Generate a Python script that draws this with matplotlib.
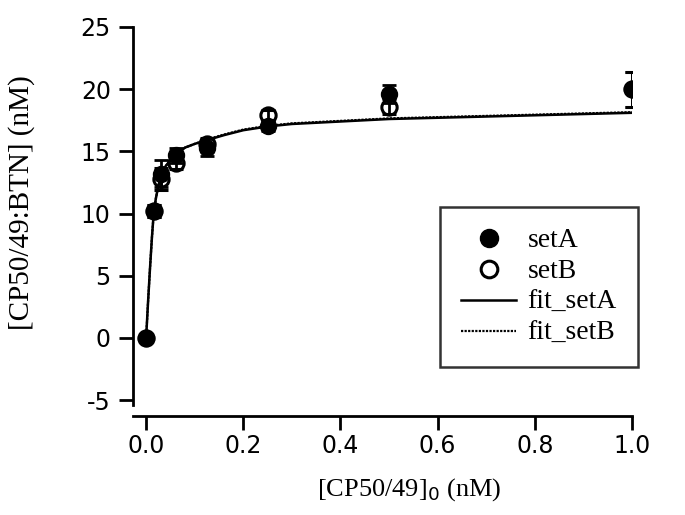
import matplotlib
matplotlib.use("Agg")
import matplotlib.pyplot as plt
from matplotlib.lines import Line2D

plt.rcParams["axes.unicode_minus"] = False

# Total CP50/49 concentration (nM)
conc = [0.0, 0.015625, 0.03125, 0.0625, 0.125, 0.25, 0.5, 1.0]

# Bound complex, set A (filled) and set B (open)
setA = [0.0, 10.2, 13.2, 14.7, 15.3, 17.0, 19.6, 20.0]
errA = [0.3, 0.5, 1.1, 0.6, 0.7, 0.4, 0.7, 1.4]
setB = [0.0, 10.2, 12.8, 14.1, 15.6, 17.9, 18.6, 20.0]
errB = [0.3, 0.5, 0.9, 0.5, 0.5, 0.4, 0.6, 1.4]

# Fitted binding curves
fit_x = [0.0, 0.004, 0.008, 0.012, 0.0156, 0.02, 0.025, 0.03125, 0.04, 0.05,
         0.0625, 0.08, 0.1, 0.125, 0.16, 0.2, 0.25, 0.3, 0.4, 0.5, 0.6, 0.7,
         0.8, 0.9, 1.0]
fit_setA = [0.0, 2.9, 5.6, 8.1, 10.0, 11.2, 12.2, 13.1, 13.8, 14.3,
            14.8, 15.3, 15.6, 15.9, 16.3, 16.7, 17.0, 17.2, 17.4, 17.6,
            17.7, 17.8, 17.9, 18.0, 18.1]
fit_setB = [0.0, 2.9, 5.6, 8.1, 10.0, 11.2, 12.2, 13.1, 13.8, 14.3,
            14.8, 15.3, 15.6, 15.95, 16.35, 16.75, 17.05, 17.25, 17.45, 17.65,
            17.75, 17.85, 17.95, 18.05, 18.15]

xticks = [0.0, 0.2, 0.4, 0.6, 0.8, 1.0]
xtick_labels = ["0.0", "0.2", "0.4", "0.6", "0.8", "1.0"]
yticks = [-5, 0, 5, 10, 15, 20, 25]

W, H = 685, 515
fig = plt.figure(figsize=(W / 100, H / 100), dpi=100)
left, right, top, bottom = 133, 632, 27, 405
aw, ah = right - left, bottom - top
ax = fig.add_axes([left / W, 1 - bottom / H, aw / W, ah / H])

serif = "Liberation Serif"
sans = "DejaVu Sans"

ax.plot(fit_x, fit_setA, color="black", lw=1.8, zorder=2)
ax.plot(fit_x, fit_setB, color="black", lw=1.6, ls=(0, (1, 0.6)), zorder=2)

ax.errorbar(conc, setB, yerr=errB, fmt="o", ms=11, mfc="none", mec="black", mew=2.2,
            ecolor="black", elinewidth=2, capsize=5, capthick=2, zorder=3)
ax.errorbar(conc, setA, yerr=errA, fmt="o", ms=11.5, mfc="black", mec="black",
            ecolor="black", elinewidth=2, capsize=5, capthick=2, zorder=4)

ax.set_xlim(-0.027, 1.0)
ax.set_ylim(-5.4, 25)
ax.set_xticks(xticks)
ax.set_xticklabels(xtick_labels)
ax.set_yticks(yticks)

for s in ["top", "right"]:
    ax.spines[s].set_visible(False)
ax.spines["left"].set_linewidth(2)
ax.spines["bottom"].set_linewidth(2)
ax.spines["bottom"].set_position(("outward", 8))
ax.tick_params(axis="both", direction="out", length=10, width=2, labelsize=17)
ax.tick_params(axis="x", pad=3)
ax.tick_params(axis="y", pad=6)
for lab in ax.get_xticklabels() + ax.get_yticklabels():
    lab.set_family(sans)

ax.set_xlabel(r"[CP50/49]$_0$ (nM)", family=serif, fontsize=19, va="center")
ax.xaxis.set_label_coords((409 - left) / aw, (bottom - 490) / ah)
ax.set_ylabel("[CP50/49:BTN] (nM)", family=serif, fontsize=21, va="center")
ax.yaxis.set_label_coords((22 - left) / aw, (bottom - 203) / ah)

handles = [
    Line2D([], [], ls="none", marker="o", ms=13, mfc="black", mec="black"),
    Line2D([], [], ls="none", marker="o", ms=12, mfc="none", mec="black", mew=2.2),
    Line2D([], [], color="black", lw=1.8),
    Line2D([], [], color="black", lw=1.6, ls=(0, (1, 0.6))),
]
labels = ["setA", "setB", "fit_setA", "fit_setB"]
leg = ax.legend(handles, labels,
                loc="upper left", bbox_to_anchor=(440 / W, 1 - 207 / H),
                bbox_transform=fig.transFigure, frameon=True, fancybox=False,
                prop={"family": serif, "size": 20}, handlelength=2.0,
                borderpad=0.75, labelspacing=0.2, handletextpad=0.4,
                borderaxespad=0)
leg.get_frame().set_edgecolor("black")
leg.get_frame().set_linewidth(1.8)

fig.savefig("out.png", dpi=100)
